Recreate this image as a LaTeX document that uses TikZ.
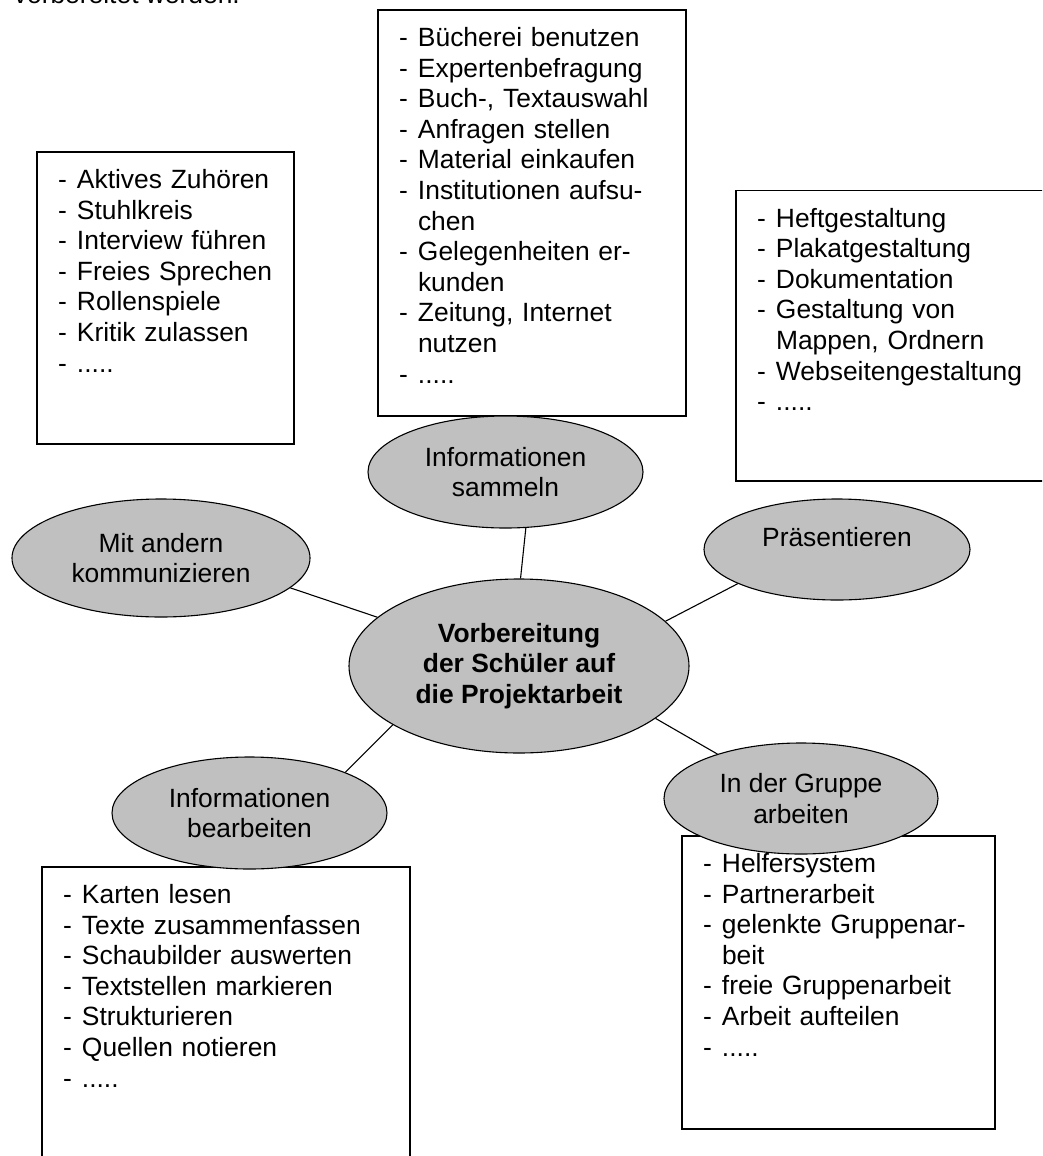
\documentclass[tikz,border=0pt]{standalone}
\usepackage{fontspec}
\setmainfont{Liberation Sans}
\usetikzlibrary{positioning}
\usetikzlibrary{shapes.geometric}
\definecolor{ovalgray}{RGB}{192,192,192}

\begin{document}
\begin{tikzpicture}[x=1pt,y=-1pt,on grid,line width=1.1pt,
  every node/.style={font=\fontsize{26.4}{30.6}\selectfont},
  topic node/.style={ellipse,draw,fill=ovalgray,align=center,inner sep=2pt},
  list node/.style={rectangle,draw,fill=white,align=left,inner xsep=21pt,
    inner ysep=0pt,text height=36.5pt}]

  \useasboundingbox (0,0) rectangle (1042,1156);
  \clip (0,0) rectangle (1042,1156);

  \node[anchor=base west] (0) at (10,4) {vorbereitet werden.};

  \node[topic node,minimum width=340pt,minimum height=174pt,
    font=\fontsize{26.4}{30.6}\selectfont\bfseries] (1) at (519,666)
    {Vorbereitung\\der Schüler auf\\die Projektarbeit};

  % boxes first, the ovals lie over them
  \node[list node,text width=215pt,text depth=255.5pt] (7)
    [above left=368pt and 353.5pt of 1]
    {\begin{tabular}[t]{@{}p{19pt}@{}l@{}}
      - & Aktives Zuhören\\
      - & Stuhlkreis\\
      - & Interview führen\\
      - & Freies Sprechen\\
      - & Rollenspiele\\
      - & Kritik zulassen\\
      - & .....
    \end{tabular}};
  \node[list node,text width=266pt,text depth=369.5pt] (8)
    [above right=453pt and 13pt of 1]
    {\begin{tabular}[t]{@{}p{19pt}@{}l@{}}
      - & Bücherei benutzen\\
      - & Expertenbefragung\\
      - & Buch-, Textauswahl\\
      - & Anfragen stellen\\
      - & Material einkaufen\\
      - & Institutionen aufsu-\\
        & chen\\
      - & Gelegenheiten er-\\
        & kunden\\
      - & Zeitung, Internet\\
        & nutzen\\
      - & .....
    \end{tabular}};
  \node[list node,text width=272pt,text depth=254pt] (9)
    [above right=330.25pt and 374pt of 1]
    {\begin{tabular}[t]{@{}p{19pt}@{}l@{}}
      - & Heftgestaltung\\
      - & Plakatgestaltung\\
      - & Dokumentation\\
      - & Gestaltung von\\
        & Mappen, Ordnern\\
      - & Webseitengestaltung\\
      - & .....
    \end{tabular}};
  \node[list node,text width=326pt,text depth=263.5pt] (10)
    [below left=351pt and 293pt of 1]
    {\begin{tabular}[t]{@{}p{19pt}@{}l@{}}
      - & Karten lesen\\
      - & Texte zusammenfassen\\
      - & Schaubilder auswerten\\
      - & Textstellen markieren\\
      - & Strukturieren\\
      - & Quellen notieren\\
      - & .....
    \end{tabular}};
  \node[list node,text width=271pt,text depth=256.5pt] (11)
    [below right=316.5pt and 319.5pt of 1]
    {\begin{tabular}[t]{@{}p{19pt}@{}l@{}}
      - & Helfersystem\\
      - & Partnerarbeit\\
      - & gelenkte Gruppenar-\\
        & beit\\
      - & freie Gruppenarbeit\\
      - & Arbeit aufteilen\\
      - & .....
    \end{tabular}};

  \node[topic node,minimum width=298pt,minimum height=118pt] (2)
    [above left=108pt and 358pt of 1] {Mit andern\\kommunizieren};
  \node[topic node,minimum width=275pt,minimum height=112pt] (3)
    [above left=194pt and 13.5pt of 1] {Informationen\\sammeln};
  \node[topic node,minimum width=266pt,minimum height=101pt] (4)
    [above right=116.5pt and 318pt of 1]
    {\raisebox{12pt}[\height][\depth]{Präsentieren}};
  \node[topic node,minimum width=275pt,minimum height=112pt] (5)
    [below left=147pt and 269.5pt of 1] {Informationen\\bearbeiten};
  \node[topic node,minimum width=274pt,minimum height=111pt] (6)
    [below right=132.5pt and 282pt of 1] {In der Gruppe\\arbeiten};

  \path
    (1.161) edge (2.-13)
    (1.89) edge (3.-70)
    (1.17) edge (4.199)
    (1.205) edge (5.23)
    (1.-21) edge (6.152);
\end{tikzpicture}
\end{document}
